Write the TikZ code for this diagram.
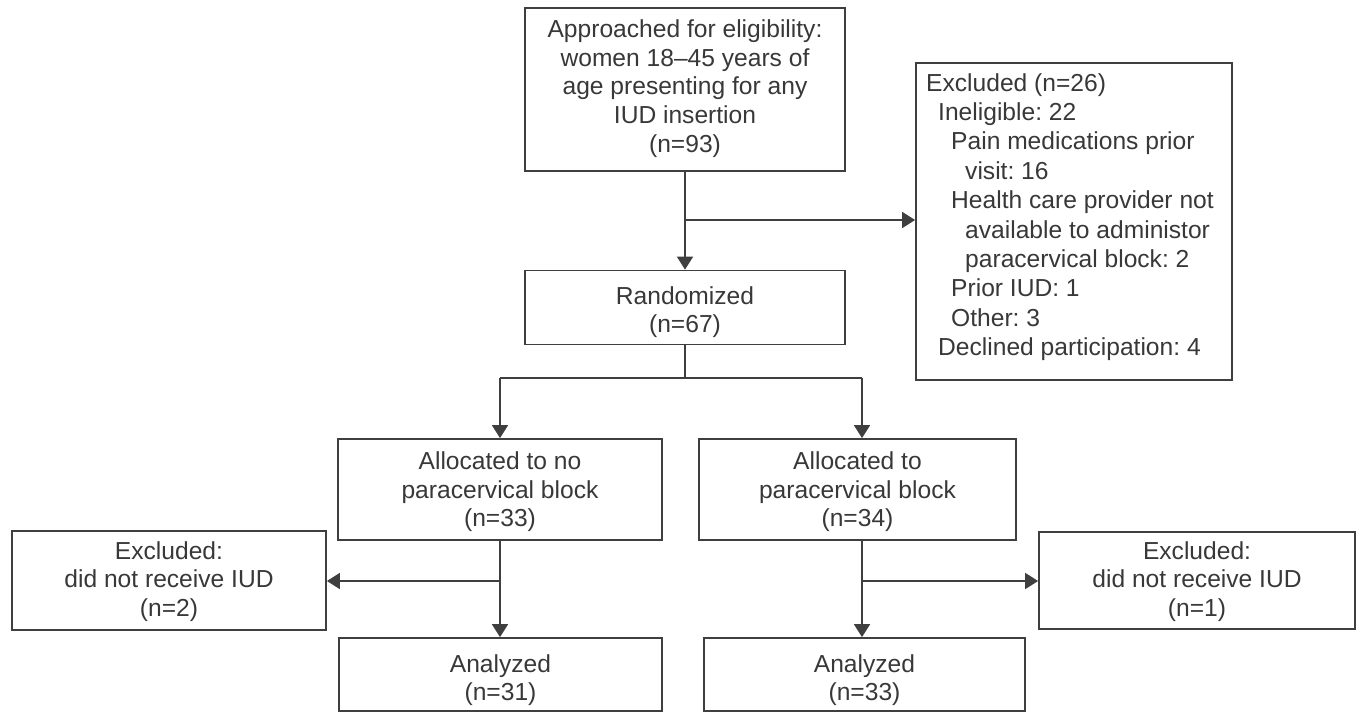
\documentclass[tikz,border=0pt]{standalone}
\usepackage{fontspec}
\setmainfont{Liberation Sans}
\frenchspacing
\usetikzlibrary{arrows.meta}
\definecolor{txt}{HTML}{383838}
\definecolor{linec}{HTML}{3F3F3F}
\begin{document}
\begin{tikzpicture}[x=1pt,y=-1pt,
  every node/.style={text=txt, font=\fontsize{24.6}{28.6}\selectfont},
  box/.style={draw=linec, line width=1.8pt, inner sep=0pt},
  lbl/.style={inner sep=0pt, align=center},
  conn/.style={draw=linec, line width=1.8pt},
  arr/.style={conn, -{Triangle[length=13pt,width=16pt]}}]
\useasboundingbox (0,0) rectangle (1356,713);

\node[box, minimum width=320, minimum height=163] (top) at (685,89.5) {};
\node[lbl] (topt) at ([yshift=1pt]top.center)
  {Approached for eligibility:\\women 18--45 years of\\age presenting for any\\IUD insertion\\(n=93)};
\node[box, minimum width=320, minimum height=74] (rand) at (685,307.5) {};
\node[lbl] (randt) at ([yshift=-4.5pt]rand.center) {Randomized\\(n=67)};
\node[box, minimum width=316, minimum height=317] (excl) at (1074,221.5) {};
\node[anchor=north west, align=left, inner sep=0pt,
  font=\fontsize{24.6}{29.4}\selectfont] (excltxt) at (926,73)
  {Excluded (n=26)\\
   \hspace*{12pt}Ineligible: 22\\
   \hspace*{25pt}Pain medications prior\\
   \hspace*{39pt}visit: 16\\
   \hspace*{25pt}Health care provider not\\
   \hspace*{39pt}available to administor\\
   \hspace*{39pt}paracervical block: 2\\
   \hspace*{25pt}Prior IUD: 1\\
   \hspace*{25pt}Other: 3\\
   \hspace*{12pt}Declined participation: 4};
\node[box, minimum width=324, minimum height=101] (allocL) at (500,489.5) {};
\node[lbl] (allocLt) at ([yshift=-2.5pt]allocL.center)
  {Allocated to no\\paracervical block\\(n=33)};
\node[box, minimum width=317, minimum height=101] (allocR) at (857.5,489.5) {};
\node[lbl] (allocRt) at ([yshift=-2.5pt]allocR.center)
  {Allocated to\\paracervical block\\(n=34)};
\node[box, minimum width=314, minimum height=99] (exclL) at (169,580.5) {};
\node[lbl] (exclLt) at ([yshift=-1pt]exclL.center)
  {Excluded:\\did not receive IUD\\(n=2)};
\node[box, minimum width=316, minimum height=97] (exclR) at (1197,580.5) {};
\node[lbl] (exclRt) at ([yshift=-1pt]exclR.center)
  {Excluded:\\did not receive IUD\\(n=1)};
\node[box, minimum width=323, minimum height=73] (analL) at (500.5,674.5) {};
\node[lbl] (analLt) at ([yshift=-5.5pt]analL.center) {Analyzed\\(n=31)};
\node[box, minimum width=321, minimum height=73] (analR) at (864.5,674.5) {};
\node[lbl] (analRt) at ([yshift=-5.5pt]analR.center) {Analyzed\\(n=33)};

% top to randomized with branch to excluded
\coordinate (b1) at (685,220);
\draw[arr] (top.south) -- (rand.north);
\draw[arr] (b1) -- (excl.west |- b1);

% split
\coordinate (sp) at (685,378);
\coordinate (spL) at (500,378);
\coordinate (spR) at (862,378);
\draw[conn] (rand.south) -- (sp);
\draw[conn] (spL) -- (spR);
\draw[arr] (spL) -- (allocL.north);
\draw[arr] (spR) -- (spR |- allocR.north);

% left column
\coordinate (bL) at (500,581);
\draw[arr] (allocL.south) -- (analL.north -| allocL.south);
\draw[arr] (bL) -- (exclL.east |- bL);

% right column
\coordinate (rT) at (862,540);
\coordinate (bR) at (862,581);
\draw[arr] (rT) -- (rT |- analR.north);
\draw[arr] (bR) -- (exclR.west |- bR);
\end{tikzpicture}
\end{document}
